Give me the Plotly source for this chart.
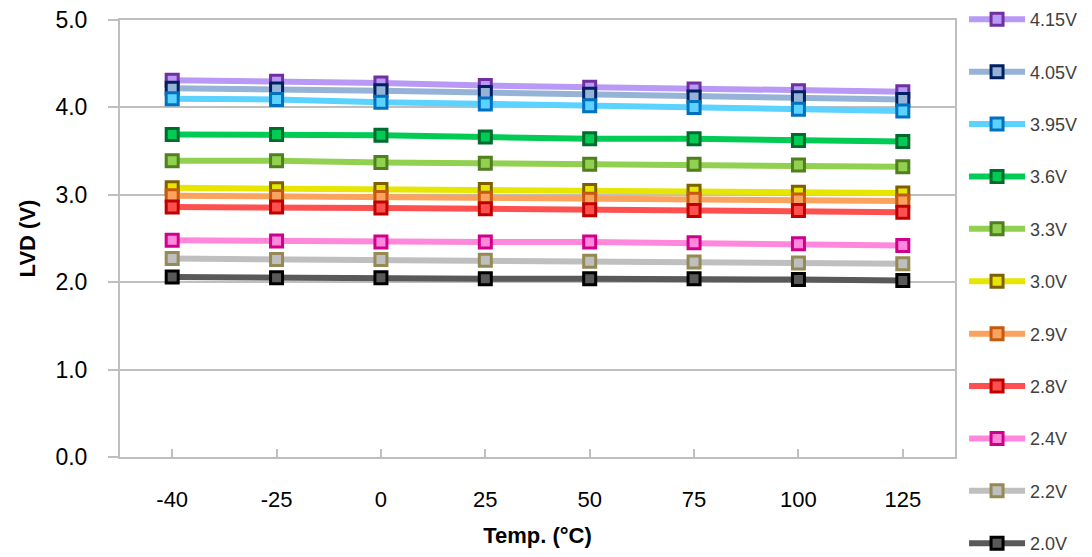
import plotly.graph_objects as go

temps = ["-40", "-25", "0", "25", "50", "75", "100", "125"]

series_names = ["4.15V", "4.05V", "3.95V", "3.6V", "3.3V", "3.0V", "2.9V", "2.8V", "2.4V", "2.2V", "2.0V"]

v_415 = [4.31, 4.30, 4.28, 4.25, 4.23, 4.21, 4.19, 4.18]
v_405 = [4.22, 4.21, 4.19, 4.17, 4.15, 4.12, 4.11, 4.09]
v_395 = [4.10, 4.09, 4.06, 4.04, 4.02, 4.00, 3.98, 3.96]
v_360 = [3.69, 3.69, 3.68, 3.66, 3.64, 3.64, 3.62, 3.61]
v_330 = [3.39, 3.39, 3.37, 3.36, 3.35, 3.35, 3.34, 3.32]
v_300 = [3.08, 3.07, 3.06, 3.06, 3.05, 3.04, 3.03, 3.02]
v_290 = [2.99, 2.98, 2.97, 2.96, 2.95, 2.95, 2.94, 2.93]
v_280 = [2.86, 2.86, 2.85, 2.84, 2.83, 2.82, 2.82, 2.80]
v_240 = [2.48, 2.47, 2.46, 2.46, 2.46, 2.45, 2.44, 2.42]
v_220 = [2.27, 2.26, 2.26, 2.25, 2.24, 2.23, 2.22, 2.21]
v_200 = [2.06, 2.05, 2.05, 2.04, 2.04, 2.04, 2.03, 2.02]

values = [v_415, v_405, v_395, v_360, v_330, v_300, v_290, v_280, v_240, v_220, v_200]

line_colors = ["#B899F5", "#95B3D7", "#5BD2FF", "#00CC55", "#92D050", "#E6E600",
               "#F9A35E", "#FF5050", "#FF88DD", "#BFBFBF", "#595959"]
edge_colors = ["#7030A0", "#002060", "#0070C0", "#006B2D", "#4F7F1F", "#7F6000",
               "#C65911", "#C00000", "#D0008C", "#948A54", "#000000"]

fig = go.Figure()
for name, vals, lc, ec in zip(series_names, values, line_colors, edge_colors):
    fig.add_trace(go.Scatter(
        x=temps, y=vals, name=name, mode="lines+markers",
        legendgroup=name,
        line=dict(color=lc, width=6),
        marker=dict(symbol="square", size=12, color=lc,
                    line=dict(color=ec, width=3)),
    ))

font_family = "Liberation Sans, Arial, sans-serif"

# page body has an 8px margin: layout is offset accordingly
fig.update_layout(
    width=1092, height=557,
    margin=dict(l=112, r=145, t=12, b=108, autoexpand=False),
    plot_bgcolor="white", paper_bgcolor="white",
    font=dict(family=font_family, color="#000000", size=22),
    showlegend=True,
    legend=dict(
        xref="container", yref="paper",
        x=0.8755, y=1.0434, xanchor="left", yanchor="top",
        traceorder="grouped", tracegroupgap=26,
        itemwidth=56, maxheight=700,
        font=dict(size=18, color="#404040", family=font_family),
        bgcolor="rgba(0,0,0,0)",
    ),
    xaxis=dict(
        type="category", range=[-0.5, 7.5],
        showline=True, linecolor="#BFBFBF", linewidth=2, mirror=True,
        showgrid=False,
        ticks="inside", ticklen=8, tickcolor="#BFBFBF", tickwidth=2,
        ticklabelstandoff=22,
        tickfont=dict(size=22),
        title=dict(text="<b>Temp. (°C)</b>", font=dict(size=22), standoff=16),
    ),
    yaxis=dict(
        range=[0, 5], dtick=1, tickformat=".1f",
        showline=True, linecolor="#BFBFBF", linewidth=2, mirror=True,
        showgrid=True, gridcolor="#BFBFBF", gridwidth=2,
        zeroline=False,
        ticks="outside", ticklen=10, tickcolor="#BFBFBF", tickwidth=2,
        ticklabelstandoff=16, ticklabeloverflow="allow",
        tickfont=dict(size=23),
        title=dict(text="<b>LVD (V)</b>", font=dict(size=22), standoff=14),
    ),
)

fig.write_html("out.html")
